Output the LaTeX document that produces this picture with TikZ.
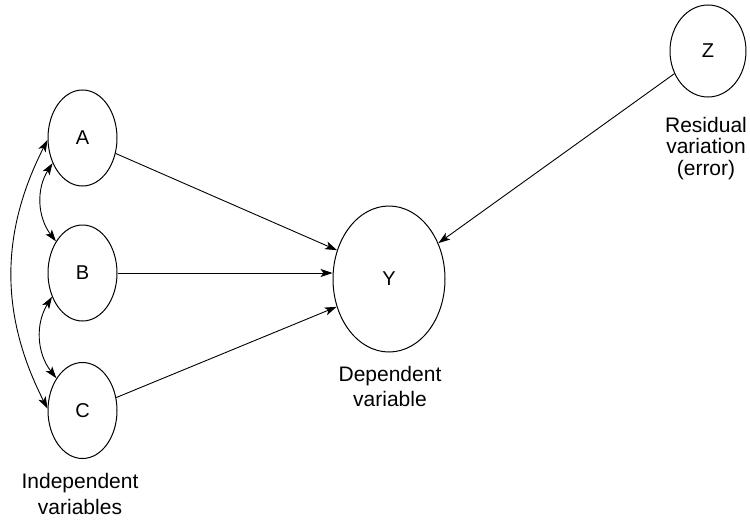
\documentclass[tikz,border=0pt]{standalone}
\usepackage{fontspec}
\setmainfont{Liberation Sans}
\usetikzlibrary{shapes.geometric,arrows.meta}
\begin{document}
\begin{tikzpicture}[x=1pt,y=-1pt,
  var/.style={draw, ellipse, line width=1pt, inner sep=0pt, minimum width=69pt, minimum height=96pt, font=\fontsize{20}{22}\selectfont},
  lbl/.style={align=center, inner sep=0pt, anchor=base},
  conn/.style={line width=0.9pt, -{Stealth[length=12pt,width=8pt,inset=3pt]}},
  corr/.style={line width=0.9pt, {Stealth[length=12pt,width=8pt,inset=3pt]}-{Stealth[length=12pt,width=8pt,inset=3pt]}}]
\useasboundingbox (0,0) rectangle (750,522);
\node[var] (A) at (82.5,138) {A};
\node[var] (B) at (82.5,273) {B};
\node[var] (C) at (82.5,410.5) {C};
\node[var, minimum width=112pt, minimum height=146pt] (Y) at (389,279) {Y};
\node[var, minimum width=76pt, minimum height=92pt] (Z) at (708,51) {Z};

\node[lbl, font=\fontsize{21}{26}\selectfont] (indep) at (80,514) {Independent\\variables};
\node[lbl, font=\fontsize{21}{25}\selectfont] (dep) at (390,406) {Dependent\\variable};
\node[lbl, font=\fontsize{21}{21.5}\selectfont] (res) at (706,175) {Residual\\variation\\(error)};

\draw[conn] (A.335) -- (Y.151);
\draw[conn] (B.east) -- (B.east -| Y.west);
\draw[conn] (C.21) -- (Y.208);
\draw[conn] (Z.214) -- (Y.36);

\draw[corr] (A.220) to[bend right=35] (B.130);
\draw[corr] (B.218) to[bend right=35] (C.129);
\draw[corr] (A.183) to[bend right=27] (C.177);
\end{tikzpicture}
\end{document}
